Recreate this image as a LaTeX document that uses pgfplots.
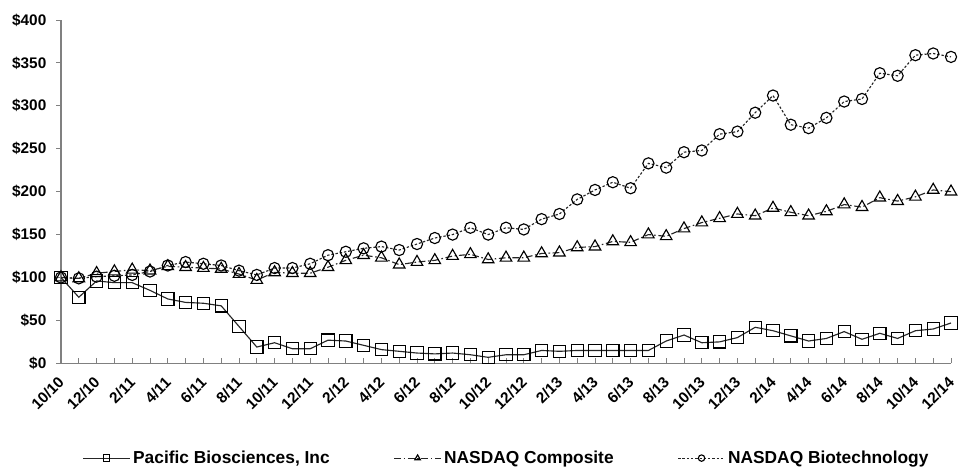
\documentclass[border=0pt]{standalone}
\usepackage{pgfplots}
\pgfplotsset{compat=1.18}
\usepackage{pgfplotstable}
\usepackage{fontspec}
\setmainfont{Liberation Sans}
\pgfplotstableread{
i pac comp bio
0 100 100 100
1 77 99 99
2 96 105 101
3 94 107 102
4 94 109 103
5 85 108 107
6 75 113 114
7 71 112 118
8 70 111 116
9 67 110 114
10 43 104 108
11 19 97 103
12 24 106 111
13 17 105 111
14 17 105 116
15 27 112 126
16 26 120 130
17 21 126 134
18 16 123 136
19 14 115 132
20 12 118 139
21 11 120 146
22 12 125 150
23 10 127 158
24 7 121 150
25 10 123 158
26 10 123 156
27 15 128 168
28 14 129 174
29 15 135 191
30 15 136 202
31 15 142 211
32 15 141 204
33 15 150 233
34 26 148 228
35 33 157 246
36 24 164 248
37 25 169 267
38 30 174 270
39 42 172 292
40 38 181 312
41 32 176 278
42 26 172 274
43 29 177 286
44 37 185 305
45 28 182 308
46 35 193 338
47 29 189 335
48 38 194 359
49 40 202 361
50 47 200 357
}\datatable
\begin{document}
\begin{tikzpicture}
\begin{axis}[
  name=ax,
  scale only axis,
  width=667.5pt, height=257.5pt,
  xmin=0, xmax=50, ymin=0, ymax=400,
  axis x line=bottom, axis y line=left,
  axis line style={-, draw=gray, line width=0.9pt},
  tick style={draw=gray, line width=0.75pt},
  tick align=inside,
  major tick length=3.75pt,
  minor tick length=3.75pt,
  y tick style={xshift=-3.75pt},
  xtick={0,2,...,50},
  minor xtick={1,3,...,49},
  xticklabels={10/10,12/10,2/11,4/11,6/11,8/11,10/11,12/11,2/12,4/12,6/12,8/12,10/12,12/12,2/13,4/13,6/13,8/13,10/13,12/13,2/14,4/14,6/14,8/14,10/14,12/14},
  ytick={0,50,...,400},
  /pgf/number format/assume math mode=true,
  yticklabel={\$\pgfmathprintnumber{\tick}},
  yticklabel style={font=\bfseries\fontsize{11.5}{13}\selectfont, xshift=-7.5pt},
  xticklabel style={font=\bfseries\fontsize{11.5}{13}\selectfont, xshift=1pt, yshift=-11.5pt, rotate=45, anchor=east, inner sep=1pt},
  legend columns=3,
  legend style={at={(0.501,-0.276)}, anchor=center, draw=none, fill=none,
    font=\bfseries\fontsize{13}{15}\selectfont,
    /tikz/every even column/.append style={column sep=46pt},
    legend cell align=left},
  legend image code/.code={
    \draw[#1, mark=none] (0pt,0pt) -- (35pt,0pt);
    \draw[#1, mark size=2.4pt] plot coordinates {(17.5pt,0pt)};
  },
]
\addplot[color=black!85, line width=0.85pt, mark=square, mark size=4.6pt, mark options={solid, draw=black, line width=0.85pt}] table[x=i, y=pac] {\datatable};
\addlegendentry{Pacific Biosciences, Inc}
\addplot[color=black!85, line width=0.85pt, dash pattern=on 5pt off 2pt on 1.2pt off 2pt, mark=triangle, mark size=5pt, mark options={solid, draw=black, line width=0.85pt}] table[x=i, y=comp] {\datatable};
\addlegendentry{NASDAQ Composite}
\addplot[color=black!85, line width=0.85pt, dash pattern=on 1.8pt off 1.4pt, mark=o, mark size=4.2pt, mark options={solid, draw=black, line width=0.85pt}] table[x=i, y=bio] {\datatable};
\addlegendentry{NASDAQ Biotechnology}
\end{axis}
\pgfresetboundingbox
\path ([shift={(-45.75pt,-80.8pt)}]ax.south west) rectangle ([shift={(5.25pt,15pt)}]ax.north east);
\end{tikzpicture}
\end{document}
